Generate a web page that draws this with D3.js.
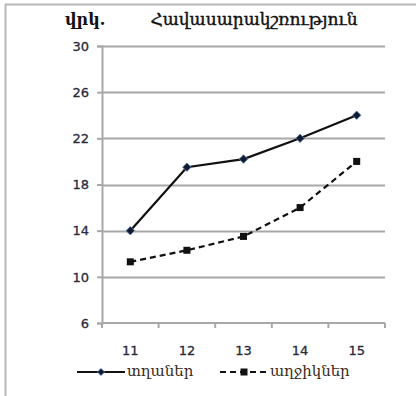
<!DOCTYPE html>
<html>
<head>
<meta charset="utf-8">
<script src="https://cdn.jsdelivr.net/npm/d3@7/dist/d3.min.js"></script>
<style>
  html, body { margin: 0; padding: 0; background: #fff; }
  svg { display: block; }
</style>
</head>
<body>
<script>
// Ages (x categories) and average values for the two groups
const categories = ["11", "12", "13", "14", "15"];
const boysValues = [14, 19.5, 20.2, 22, 24];
const girlsValues = [11.3, 12.3, 13.5, 16, 20];
const yTicks = [6, 10, 14, 18, 22, 26, 30];
const seriesNames = ["տղաներ", "աղջիկներ"];
const titleText = "Հավասարակշռություն";
const unitText = "վրկ.";

const W = 416, H = 396;
const svg = d3.select("body").append("svg").attr("width", W).attr("height", H);

// outer frame (left and top edges)
svg.append("line").attr("x1", 5.5).attr("x2", 5.5).attr("y1", 4).attr("y2", H).attr("stroke", "#b8b8b8").attr("stroke-width", 2);
svg.append("line").attr("x1", 5).attr("x2", W).attr("y1", 4.5).attr("y2", 4.5).attr("stroke", "#b8b8b8").attr("stroke-width", 2);

const plot = { left: 102, right: 385, top: 46, bottom: 323 };

const x = d3.scaleBand().domain(categories).range([plot.left, plot.right]);
const y = d3.scaleLinear().domain([6, 30]).range([plot.bottom, plot.top]);

const gridColor = "#a8a8a8";
const labelFont = "DejaVu Sans, Verdana, sans-serif";
const labelColor = "#2a2a3a";

// horizontal gridlines
svg.append("g").selectAll("line").data(yTicks.filter(t => t !== 6)).join("line")
  .attr("x1", plot.left).attr("x2", plot.right)
  .attr("y1", d => Math.round(y(d)) + 0.5).attr("y2", d => Math.round(y(d)) + 0.5)
  .attr("stroke", gridColor).attr("stroke-width", 2);

// y axis
const yAxis = d3.axisLeft(y).tickValues(yTicks).tickSize(5).tickPadding(8).tickFormat(d3.format("d"));
const gy = svg.append("g").attr("transform", `translate(${plot.left},0)`).call(yAxis);
gy.select(".domain").attr("stroke", gridColor).attr("stroke-width", 2);
gy.selectAll(".tick line").attr("stroke", gridColor).attr("stroke-width", 2);
gy.selectAll(".tick text").attr("font-family", labelFont).attr("font-size", 13).attr("fill", labelColor)
  .attr("stroke", labelColor).attr("stroke-width", 0.3);

// x axis with ticks at category boundaries
const gx = svg.append("g").attr("transform", `translate(0,${plot.bottom})`);
gx.append("line").attr("x1", plot.left).attr("x2", plot.right).attr("y1", 0).attr("y2", 0)
  .attr("stroke", gridColor).attr("stroke-width", 2);
const bounds = categories.map(c => x(c)).concat([x(categories[categories.length - 1]) + x.bandwidth()]);
gx.selectAll("line.tk").data(bounds).join("line").attr("class", "tk")
  .attr("x1", d => d).attr("x2", d => d).attr("y1", 0).attr("y2", 5)
  .attr("stroke", gridColor).attr("stroke-width", 2);
gx.selectAll("text").data(categories).join("text")
  .attr("x", d => x(d) + x.bandwidth() / 2).attr("y", 32)
  .attr("text-anchor", "middle")
  .attr("font-family", labelFont).attr("font-size", 13).attr("fill", labelColor)
  .attr("stroke", labelColor).attr("stroke-width", 0.3)
  .text(d => d);

const cx = d => x(d) + x.bandwidth() / 2;
const line = d3.line().x((d, i) => cx(categories[i])).y(d => y(d));

// boys: solid line with diamonds
svg.append("path").datum(boysValues).attr("d", line)
  .attr("fill", "none").attr("stroke", "#111").attr("stroke-width", 2.2);
const diamond = d3.symbol().type(d3.symbolSquare).size(36);
svg.append("g").selectAll("path").data(boysValues).join("path")
  .attr("d", diamond)
  .attr("transform", (d, i) => `translate(${cx(categories[i])},${y(d)}) rotate(45)`)
  .attr("fill", "#111a2e").attr("stroke", "#5a7fb5").attr("stroke-width", 0.8);

// girls: dashed line with squares
svg.append("path").datum(girlsValues).attr("d", line)
  .attr("fill", "none").attr("stroke", "#111").attr("stroke-width", 2.2).attr("stroke-dasharray", "6,4");
svg.append("g").selectAll("rect").data(girlsValues).join("rect")
  .attr("x", (d, i) => cx(categories[i]) - 3.5).attr("y", d => y(d) - 3.5)
  .attr("width", 7).attr("height", 7).attr("fill", "#111");

// title and unit
const serif = "DejaVu Serif, serif";
svg.append("text").attr("x", 65).attr("y", 25).attr("font-family", serif).attr("font-size", 16).attr("font-weight", "bold").attr("fill", "#111").text(unitText);
svg.append("text").attr("x", 254).attr("y", 25).attr("text-anchor", "middle").attr("font-family", serif).attr("font-size", 17)
  .attr("fill", "#111").attr("stroke", "#111").attr("stroke-width", 0.4).text(titleText);

// legend
const ly = 372;
const lg = svg.append("g");
lg.append("line").attr("x1", 77).attr("x2", 125).attr("y1", ly).attr("y2", ly).attr("stroke", "#111").attr("stroke-width", 2.2);
lg.append("path").attr("d", d3.symbol().type(d3.symbolSquare).size(26)).attr("transform", `translate(101,${ly}) rotate(45)`).attr("fill", "#111a2e").attr("stroke", "#5a7fb5").attr("stroke-width", 0.8);
lg.append("text").attr("x", 127).attr("y", ly + 4).attr("font-family", serif).attr("font-size", 15).attr("fill", "#3a2a1a").text(seriesNames[0]);
lg.append("line").attr("x1", 220).attr("x2", 266).attr("y1", ly).attr("y2", ly).attr("stroke", "#111").attr("stroke-width", 2.2).attr("stroke-dasharray", "6,4");
lg.append("rect").attr("x", 240.5).attr("y", ly - 3.5).attr("width", 7).attr("height", 7).attr("fill", "#111");
lg.append("text").attr("x", 270).attr("y", ly + 4).attr("font-family", serif).attr("font-size", 15).attr("fill", "#3a2a1a").text(seriesNames[1]);
</script>
</body>
</html>
